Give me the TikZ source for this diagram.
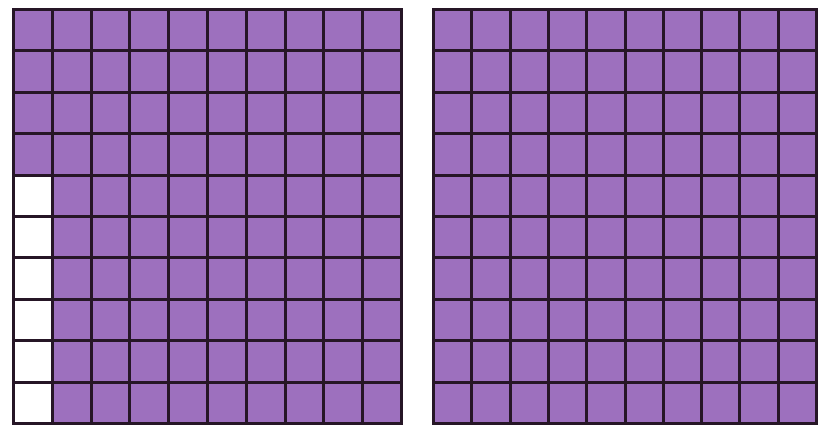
\documentclass[tikz,border=0pt]{standalone}
\definecolor{cellpurple}{RGB}{157,112,190}
\definecolor{gridline}{RGB}{38,22,38}
\begin{document}
\begin{tikzpicture}[x=1pt,y=-1pt,
  gridlines/.style={draw=gridline,line width=3pt},
  cellfill/.style={fill=cellpurple}]
\useasboundingbox (0,0) rectangle (821,430);
% left grid
\coordinate (L1) at (13.5,9.5);
\coordinate (L2) at (401.5,423.5);
\fill[cellpurple] (L1) rectangle (L2);
\pgfmathsetmacro{\cw}{(401.5-13.5)/10}
\pgfmathsetmacro{\ch}{(423.5-9.5)/10}
\foreach \r in {4,...,9}{
  \fill[white] (13.5,{9.5+\r*\ch}) rectangle ({13.5+\cw},{9.5+(\r+1)*\ch});
}
\foreach \i in {0,...,10}{
  \draw[gridlines] ({13.5+\i*\cw},9.5) -- ({13.5+\i*\cw},423.5);
  \draw[gridlines] (13.5,{9.5+\i*\ch}) -- (401.5,{9.5+\i*\ch});
}
\draw[gridlines,line cap=rect] (L1) rectangle (L2);
% right grid
\coordinate (R1) at (433.5,9.5);
\coordinate (R2) at (816.5,423.5);
\fill[cellpurple] (R1) rectangle (R2);
\pgfmathsetmacro{\cwr}{(816.5-433.5)/10}
\foreach \i in {0,...,10}{
  \draw[gridlines] ({433.5+\i*\cwr},9.5) -- ({433.5+\i*\cwr},423.5);
  \draw[gridlines] (433.5,{9.5+\i*\ch}) -- (816.5,{9.5+\i*\ch});
}
\draw[gridlines,line cap=rect] (R1) rectangle (R2);
\end{tikzpicture}
\end{document}
